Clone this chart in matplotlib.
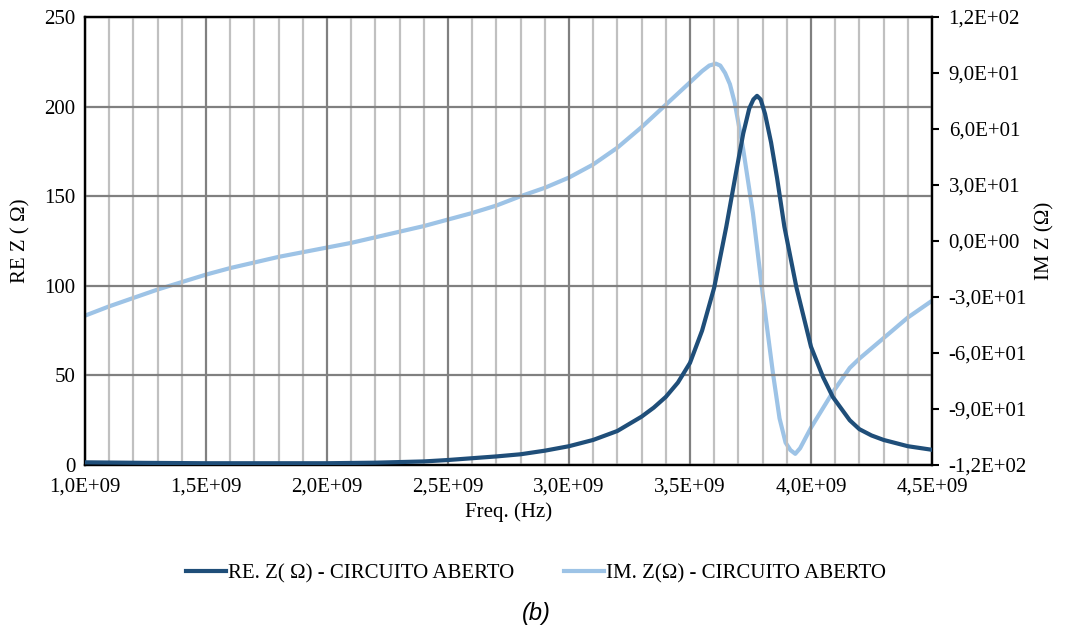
import matplotlib
matplotlib.use("Agg")
import matplotlib.pyplot as plt
from matplotlib.ticker import MultipleLocator, FuncFormatter
import math

# frequency (Hz) and real part of Z (ohm), left axis
freq_re = [1.0e9, 1.25e9, 1.5e9, 1.75e9, 2.0e9, 2.2e9, 2.4e9, 2.5e9, 2.6e9, 2.7e9,
           2.8e9, 2.9e9, 3.0e9, 3.1e9, 3.2e9, 3.3e9, 3.35e9, 3.4e9, 3.45e9, 3.5e9,
           3.55e9, 3.6e9, 3.65e9, 3.69e9, 3.72e9, 3.745e9, 3.762e9, 3.777e9, 3.792e9,
           3.81e9, 3.835e9, 3.86e9, 3.89e9, 3.94e9, 4.0e9, 4.05e9, 4.09e9, 4.16e9,
           4.2e9, 4.25e9, 4.3e9, 4.4e9, 4.5e9]
re_z = [1.5, 1.2, 1.0, 1.0, 1.0, 1.3, 2.0, 2.8, 3.8, 4.8,
        6.0, 8.0, 10.5, 14, 19, 27, 32, 38, 46, 57,
        75, 99, 133, 163, 185, 199, 204, 206, 204,
        196, 180, 160, 133, 99, 66, 49, 38, 25,
        20, 16.5, 14, 10.5, 8.5]

# frequency (Hz) and imaginary part of Z (ohm), right axis
freq_im = [1.0e9, 1.1e9, 1.2e9, 1.3e9, 1.4e9, 1.5e9, 1.6e9, 1.7e9, 1.8e9, 1.9e9,
           2.0e9, 2.1e9, 2.2e9, 2.3e9, 2.4e9, 2.5e9, 2.6e9, 2.7e9, 2.8e9, 2.9e9,
           3.0e9, 3.1e9, 3.2e9, 3.3e9, 3.4e9, 3.5e9, 3.55e9, 3.58e9, 3.607e9, 3.625e9,
           3.645e9, 3.665e9, 3.685e9, 3.72e9, 3.76e9, 3.8e9, 3.843e9, 3.87e9, 3.895e9,
           3.915e9, 3.935e9, 3.955e9, 4.0e9, 4.09e9, 4.16e9, 4.2e9, 4.3e9, 4.4e9, 4.5e9]
im_z = [-40, -35, -30.5, -26, -22, -18, -14.5, -11.5, -8.5, -6,
        -3.5, -1, 2, 5, 8, 11.5, 15, 19, 24, 28.5,
        34, 41, 50, 61, 73, 85, 91, 94, 95, 94,
        90, 84, 74, 49, 15, -28, -71, -95, -108,
        -112, -114, -111, -100, -81, -68, -63, -52, -41, -32]

re_label = "RE. Z( \u03a9) - CIRCUITO ABERTO"
im_label = "IM. Z(\u03a9) - CIRCUITO ABERTO"

dark = "#1f4e79"
light = "#9dc3e6"

plt.rcParams['font.family'] = ['Liberation Serif', 'DejaVu Serif']
plt.rcParams['font.size'] = 15


def sci_comma(v, pos=None):
    if v == 0:
        return "0,0E+00"
    e = int(math.floor(math.log10(abs(v)) + 1e-9))
    m = v / 10 ** e
    return ("%.1fE%+03d" % (m, e)).replace(".", ",")


fig = plt.figure(figsize=(10.66, 6.32), dpi=100)
ax1 = fig.add_axes([0.0797, 0.2642, 0.7946, 0.7089])
ax2 = ax1.twinx()

ax1.set_xlim(1.0e9, 4.5e9)
ax1.set_ylim(0, 250)
ax2.set_ylim(-120, 120)

ax1.xaxis.set_major_locator(MultipleLocator(0.5e9))
ax1.xaxis.set_minor_locator(MultipleLocator(0.1e9))
ax1.yaxis.set_major_locator(MultipleLocator(50))
ax2.yaxis.set_major_locator(MultipleLocator(30))
ax1.xaxis.set_major_formatter(FuncFormatter(sci_comma))
ax2.yaxis.set_major_formatter(FuncFormatter(sci_comma))

ax1.grid(True, which='minor', axis='x', color='#c0c0c0', lw=1.6)
ax1.grid(True, which='major', axis='x', color='#808080', lw=1.6)
ax1.grid(True, which='major', axis='y', color='#808080', lw=1.6)
ax1.set_axisbelow(True)

ax1.tick_params(axis='both', which='both', length=0, pad=7, labelsize=15)
ax1.tick_params(axis='x', pad=9)
ax2.tick_params(axis='y', length=5, width=1.5, direction='out', pad=7, labelsize=15)

for a in (ax1, ax2):
    for s in a.spines.values():
        s.set_linewidth(1.6)
        s.set_color('black')

l1, = ax1.plot(freq_re, re_z, color=dark, lw=3.0, label=re_label, zorder=3,
               solid_joinstyle='round')
l2, = ax2.plot(freq_im, im_z, color=light, lw=3.0, label=im_label, zorder=2,
               solid_joinstyle='round')
ax1.set_zorder(ax2.get_zorder() + 1)
ax1.patch.set_visible(False)

ax1.set_xlabel("Freq. (Hz)", fontsize=15, labelpad=4)
ax1.set_ylabel("RE Z ( \u03a9)", fontsize=15, labelpad=10)
ax2.set_ylabel("IM Z (\u03a9)", fontsize=15, rotation=90, labelpad=6)

fig.legend([l1, l2], [re_label, im_label], loc='center',
           bbox_to_anchor=(0.503, 0.093), ncol=2, frameon=False,
           handlelength=1.9, handletextpad=0.1, columnspacing=2.4,
           fontsize=15)

fig.text(0.503, 0.03, "(b)", fontsize=17, style='italic',
         family=['Liberation Sans', 'DejaVu Sans'], ha='center', va='center')

fig.savefig("out.png", dpi=100)
